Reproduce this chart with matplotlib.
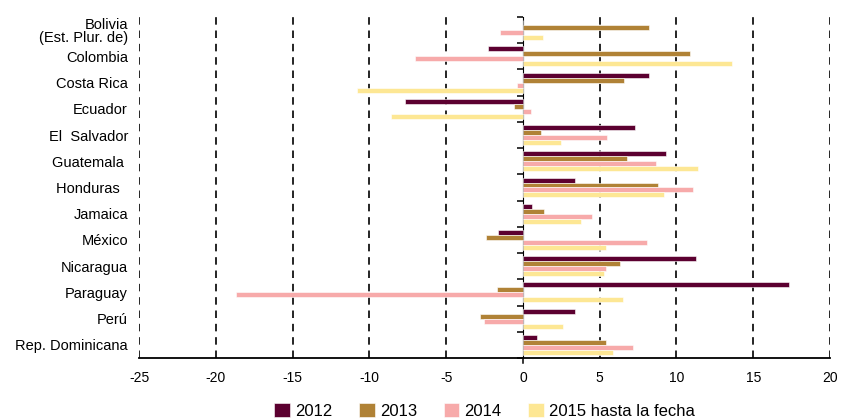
import numpy as np
import matplotlib
matplotlib.use('Agg')
import matplotlib.pyplot as plt

plt.rcParams['font.family'] = ['Liberation Sans', 'DejaVu Sans']

countries = ['Bolivia\n(Est. Plur. de)', 'Colombia', 'Costa Rica', 'Ecuador',
             'El  Salvador', 'Guatemala ', 'Honduras  ', 'Jamaica', 'México',
             'Nicaragua', 'Paraguay', 'Perú', 'Rep. Dominicana']
years = ['2012', '2013', '2014', '2015 hasta la fecha']
v2012 = [0.0, -2.3, 8.2, -7.7, 7.3, 9.3, 3.4, 0.6, -1.6, 11.3, 17.3, 3.4, 0.9]
v2013 = [8.2, 10.9, 6.6, -0.6, 1.2, 6.8, 8.8, 1.4, -2.4, 6.3, -1.7, -2.8, 5.4]
v2014 = [-1.5, -7.0, -0.4, 0.5, 5.5, 8.7, 11.1, 4.5, 8.1, 5.4, -18.7, -2.5, 7.2]
v2015 = [1.3, 13.6, -10.8, -8.6, 2.5, 11.4, 9.2, 3.8, 5.4, 5.3, 6.5, 2.6, 5.9]
colors = ['#5c0030', '#b08236', '#f7aaaa', '#fde794']

series = [v2012, v2013, v2014, v2015]
y = np.arange(len(countries))
h = 0.19

fig = plt.figure(figsize=(8.44, 4.2), dpi=100)
ax = fig.add_axes([0.1647, 0.1476, 0.8187, 0.812])

for k, (vals, col, lab) in enumerate(zip(series, colors, years)):
    ax.barh(y + (k - 1.5) * h, vals, height=h, color=col, label=lab,
            edgecolor='white', linewidth=0.4, zorder=3)

ax.set_xlim(-25, 20)
ax.set_ylim(len(countries) - 0.5, -0.5)
ax.set_xticks(np.arange(-25, 21, 5))
ax.set_xticklabels([str(t) for t in range(-25, 21, 5)], fontsize=10)
ax.tick_params(axis='x', length=0, pad=9)
ax.set_yticks(y)
ax.set_yticklabels(countries, fontsize=10.5, linespacing=0.95, ma='right')
ax.tick_params(axis='y', length=0, pad=8)

for x in range(-25, 21, 5):
    if x != 0:
        ax.axvline(x, color='black', lw=1.2, ls=(0, (4.5, 3.5)), zorder=1)

for s in ['left', 'right', 'top', 'bottom']:
    ax.spines[s].set_visible(False)
ax.axhline(len(countries) - 0.5, color='black', lw=1.3, zorder=6, clip_on=False)

# zero line with category separators
sec = ax.secondary_yaxis(25 / 45)
sec.set_yticks(np.arange(-0.5, len(countries), 1.0))
sec.set_yticklabels([])
sec.yaxis.set_ticks_position('left')
sec.tick_params(direction='out', length=4, width=1.1)
sec.spines['left'].set_linewidth(1.3)
ax.axvline(0, ymin=-0.015, ymax=0, color='black', lw=1.1, clip_on=False)

ax.legend(loc='center', bbox_to_anchor=(0.5, -0.155), ncol=4, frameon=False,
          fontsize=12, handlelength=0.95, handleheight=0.9,
          handletextpad=0.3, columnspacing=1.6)

fig.savefig('out.png', dpi=100)
